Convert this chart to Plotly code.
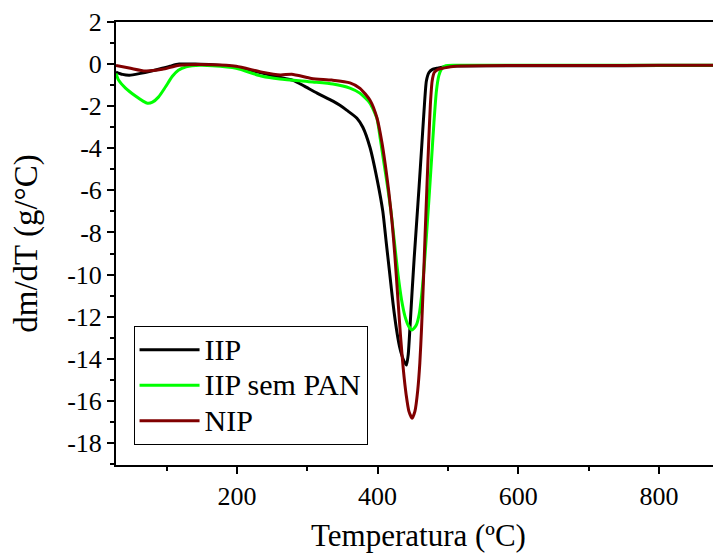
import plotly.graph_objects as go

# IIP (black)
iip_T = [28.2, 37.4, 47.3, 63, 77, 94, 105, 118, 165, 199, 236, 268, 280, 296, 314, 336.5, 346.4, 356.4,
         370.6, 379, 389, 399.4, 407.4, 412, 417, 422, 426.8, 431, 435, 438, 441, 443.5, 446, 449, 452,
         455.5, 459, 462.5, 466, 469.3, 473, 478, 484, 500, 600, 700, 800, 888]
iip_v = [-0.38, -0.49, -0.53, -0.44, -0.34, -0.2, -0.1, 0.0, -0.03, -0.15, -0.43, -0.68, -0.77, -1.05, -1.38,
         -1.76, -1.96, -2.2, -2.57, -3.0, -3.94, -5.5, -7.0, -8.4, -9.9, -11.4, -12.6, -13.4, -13.9, -14.15,
         -14.3, -13.8, -12.5, -10.8, -9.2, -7.5, -5.8, -4.0, -2.2, -0.8, -0.4, -0.25, -0.2, -0.1, -0.08, -0.08,
         -0.07, -0.07]

# IIP sem PAN (green)
sem_T = [28.2, 31.8, 41.7, 55.9, 67.2, 72.9, 80, 88.5, 98.4, 108.3, 116.8, 128, 148, 165, 199, 236, 261, 308,
         336.5, 360.6, 374.7, 389, 398.9, 404, 409, 414, 419, 424, 429, 434, 439, 444, 449, 455, 459, 462.5,
         466, 469.5, 473, 476.5, 480, 483.5, 487, 491, 497, 510, 600, 700, 800, 888]
sem_v = [-0.45, -0.76, -1.14, -1.52, -1.77, -1.86, -1.81, -1.57, -1.09, -0.58, -0.29, -0.13, -0.06, -0.08, -0.2,
         -0.58, -0.71, -0.85, -0.95, -1.14, -1.38, -1.85, -2.57, -3.6, -4.7, -5.8, -7.0, -8.5, -10.0, -11.2,
         -12.0, -12.45, -12.63, -12.4, -11.9, -11.0, -9.7, -8.1, -6.4, -4.6, -2.8, -1.3, -0.55, -0.22, -0.08,
         -0.06, -0.06, -0.06, -0.06, -0.06]

# NIP (dark red)
nip_T = [28.2, 48.8, 70, 94, 118, 165, 199, 234, 262, 278, 306, 335, 360.7, 375, 389, 399, 406, 411, 416,
         420.5, 424.5, 428.5, 432.5, 436.5, 440.5, 444.5, 449, 453, 457, 460, 462.5, 465, 467.5, 470, 472.5,
         475, 477.5, 480.5, 486, 495, 510, 600, 700, 800, 888]
nip_v = [-0.06, -0.2, -0.33, -0.25, -0.06, -0.03, -0.1, -0.37, -0.52, -0.48, -0.68, -0.76, -0.89, -1.15, -1.71,
         -2.55, -3.7, -4.8, -6.1, -7.5, -9.1, -11.0, -12.9, -14.5, -15.7, -16.5, -16.83, -16.5, -15.5, -14.2,
         -12.5, -10.4, -8.1, -5.9, -3.8, -1.9, -0.8, -0.4, -0.25, -0.18, -0.1, -0.07, -0.07, -0.06, -0.06]

x_ticks = [200, 400, 600, 800]
x_labels = ["200", "400", "600", "800"]
y_ticks = [2, 0, -2, -4, -6, -8, -10, -12, -14, -16, -18]
y_labels = ["2", "0", "-2", "-4", "-6", "-8", "-10", "-12", "-14", "-16", "-18"]

FONT = "Liberation Serif"
NB = "\u00a0"


def big(name):
    return "<span style='font-size:30px'>" + name + "</span>"


fig = go.Figure()
fig.add_trace(go.Scatter(x=iip_T, y=iip_v, mode="lines", name=big("IIP"),
                         line=dict(color="#000000", width=3, shape="spline", smoothing=0.6)))
fig.add_trace(go.Scatter(x=sem_T, y=sem_v, mode="lines", name=big("IIP sem PAN"),
                         line=dict(color="#00FF00", width=3, shape="spline", smoothing=0.6)))
fig.add_trace(go.Scatter(x=nip_T, y=nip_v, mode="lines", name=big("NIP"),
                         line=dict(color="#800000", width=3, shape="spline", smoothing=0.6)))

# the page has an 8px body margin, so the figure is 8px smaller than the window
fig.update_layout(
    width=713, height=549,
    margin=dict(l=108, r=0, t=14, b=92),
    paper_bgcolor="white", plot_bgcolor="white",
    font=dict(family=FONT, size=26, color="black"),
    showlegend=True,
    legend=dict(x=0.029, y=0.3136, xanchor="left", yanchor="top",
                bgcolor="white", bordercolor="black", borderwidth=1,
                font=dict(family=FONT, size=25, color="black"),
                tracegroupgap=0, itemwidth=60),
    xaxis=dict(range=[28.2, 888], tickvals=x_ticks, ticktext=x_labels, ticks="outside", ticklen=7,
               tickwidth=1.5, tickcolor="black", showline=True, linecolor="black", linewidth=2, mirror=True,
               showgrid=False, zeroline=False, automargin=False,
               minor=dict(dtick=100, tick0=0, ticks="outside", ticklen=4, tickcolor="black", tickwidth=1.5),
               tickfont=dict(family=FONT, size=26),
               title=dict(text=NB + NB + "Temperatura (ºC)", font=dict(family=FONT, size=31), standoff=14)),
    yaxis=dict(range=[-19.05, 2.0], tickvals=y_ticks, ticktext=y_labels, ticks="outside", ticklen=7,
               tickwidth=1.5, tickcolor="black", showline=True, linecolor="black", linewidth=2, mirror=False,
               showgrid=False, zeroline=False, automargin=False,
               minor=dict(dtick=1, tick0=0, ticks="outside", ticklen=4, tickcolor="black", tickwidth=1.5),
               tickfont=dict(family=FONT, size=26),
               title=dict(text="dm/dT (g/°C)" + NB * 4, font=dict(family=FONT, size=33), standoff=20)),
)

fig.write_html("out.html")
